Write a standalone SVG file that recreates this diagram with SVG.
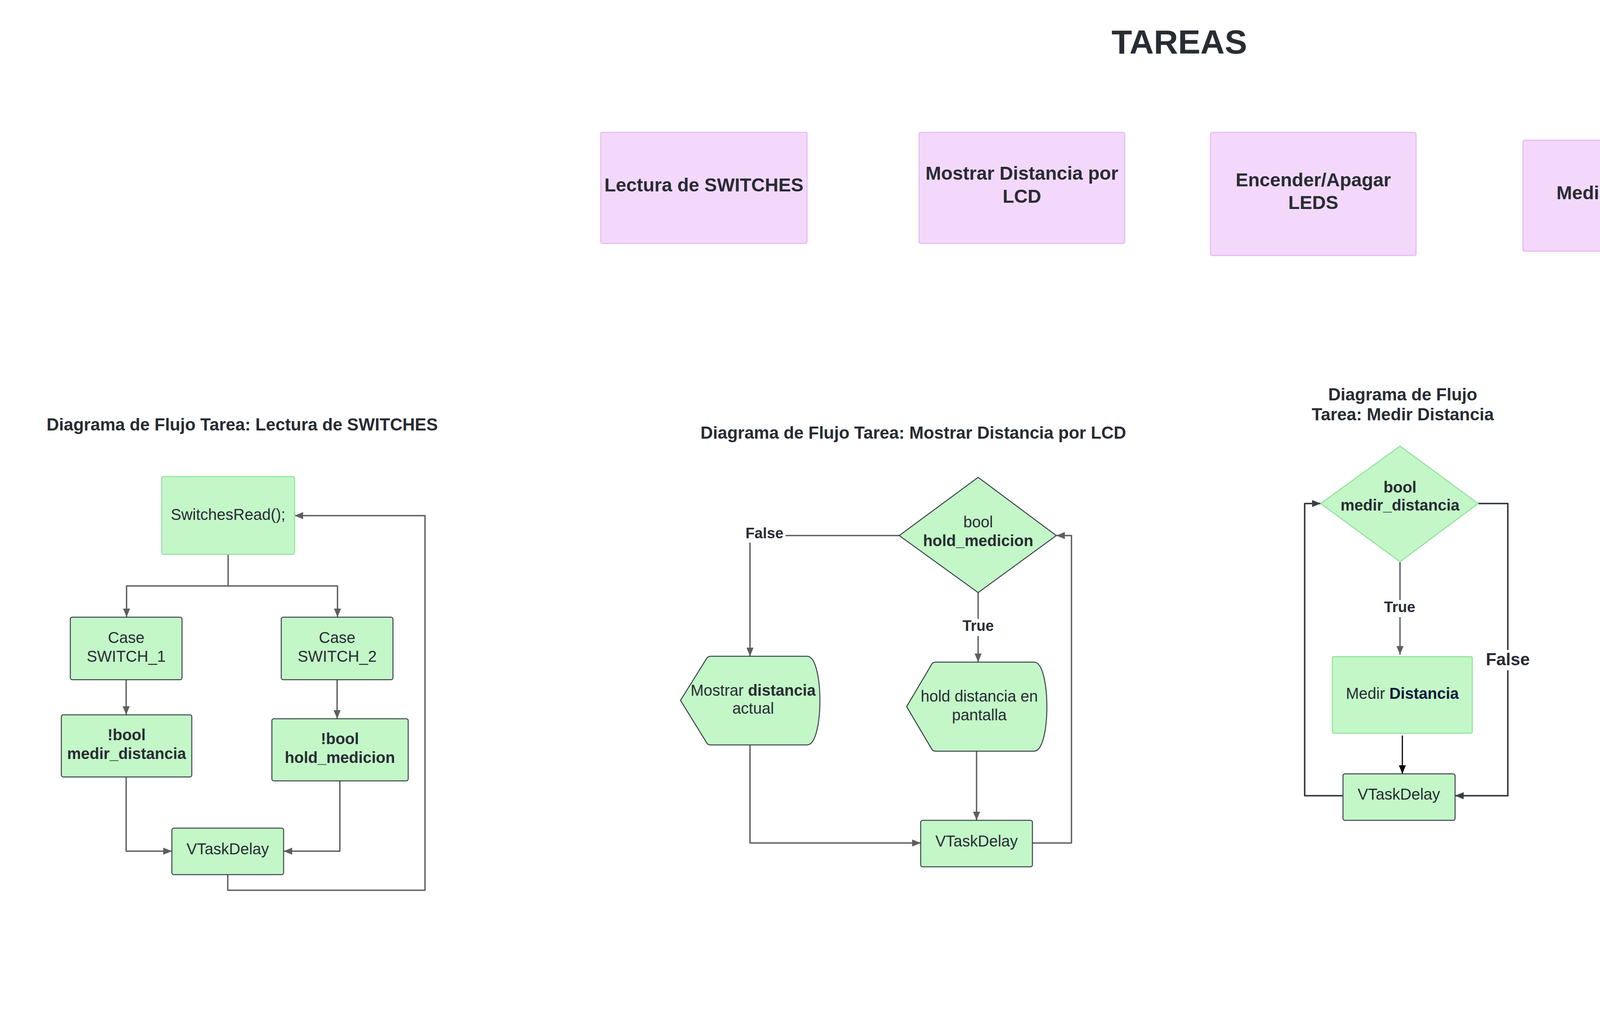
<svg xmlns="http://www.w3.org/2000/svg" width="5987" height="2583" viewBox="0 0 5987 2583">
<style>
text { font-family: "Liberation Sans", Arial, sans-serif; fill: #282c33; text-anchor: middle; }
.b { font-weight: bold; }
.f40 { font-size: 40px; }
.f30 { font-size: 30px; }
.f28 { font-size: 28px; }
.ttl { font-size: 44px; font-weight: bold; }
.task { fill: #f3d8fc; stroke: #e6bdf3; stroke-width: 3; }
.node { fill: #c3f7c8; stroke: #3a414a; stroke-width: 2.5; }
.nodel { fill: #c3f7c8; stroke: #98e4a2; stroke-width: 3; }
.c { fill: none; stroke: #5e5e5e; stroke-width: 3.5; stroke-linejoin: round; }
.cd { fill: none; stroke: #3a3f47; stroke-width: 4; stroke-linejoin: round; }
.ck { fill: none; stroke: #000; stroke-width: 3; }
.bg { fill: #ffffff; }
</style>
<defs>
<marker id="ah" markerUnits="userSpaceOnUse" markerWidth="24" markerHeight="18" refX="22" refY="9" orient="auto"><path d="M0,0 L22,9 L0,18 z" fill="#5e5e5e"/></marker>
<marker id="ahd" markerUnits="userSpaceOnUse" markerWidth="24" markerHeight="18" refX="22" refY="9" orient="auto"><path d="M0,0 L22,9 L0,18 z" fill="#3a3f47"/></marker>
<marker id="ahk" markerUnits="userSpaceOnUse" markerWidth="24" markerHeight="18" refX="22" refY="9" orient="auto"><path d="M0,0 L22,9 L0,18 z" fill="#000"/></marker>
</defs>
<rect width="5987" height="2583" fill="#ffffff"/>

<text x="3019" y="137" class="b" font-size="86">TAREAS</text>

<g id="task-switches"><rect class="task" x="1538" y="339" width="528" height="284" rx="4"/><text x="1802" y="490" class="b" font-size="48">Lectura de SWITCHES</text></g>
<g id="task-lcd"><rect class="task" x="2353" y="339" width="526" height="284" rx="4"/><text x="2616" y="460" class="b" font-size="48">Mostrar Distancia por</text><text x="2616" y="519" class="b" font-size="48">LCD</text></g>
<g id="task-leds"><rect class="task" x="3099" y="339" width="526" height="315" rx="4"/><text x="3362" y="477" class="b" font-size="48">Encender/Apagar</text><text x="3362" y="535" class="b" font-size="48">LEDS</text></g>
<g id="task-medir"><rect class="task" x="3899" y="359" width="526" height="284" rx="4"/><text x="4162" y="510" class="b" font-size="48">Medir Distancia</text></g>

<text x="620" y="1102" class="ttl">Diagrama de Flujo Tarea: Lectura de SWITCHES</text>
<text x="2338" y="1123" class="ttl">Diagrama de Flujo Tarea: Mostrar Distancia por LCD</text>
<text x="3591" y="1025" class="ttl">Diagrama de Flujo</text>
<text x="3591" y="1076" class="ttl">Tarea: Medir Distancia</text>
<text x="5140" y="1020" class="ttl">Diagrama de Flujo Tarea: Encender/Apagar LEDS</text>

<g id="connectors">
<path class="c" d="M584 1419 V1500 H324 V1580" marker-end="url(#ah)"/>
<path class="c" d="M584 1500 H864 V1580" marker-end="url(#ah)"/>
<path class="c" d="M323 1740 V1830" marker-end="url(#ah)"/>
<path class="c" d="M863 1740 V1840" marker-end="url(#ah)"/>
<path class="c" d="M323 1989 V2179 H440" marker-end="url(#ah)"/>
<path class="c" d="M870 1999 V2179 H726" marker-end="url(#ah)"/>
<path class="c" d="M583 2239 V2279 H1088 V1320 H754" marker-end="url(#ah)"/>
<path class="c" d="M2302 1371 H1920 V1680" marker-end="url(#ah)"/>
<path class="c" d="M2504 1517 V1695" marker-end="url(#ah)"/>
<path class="c" d="M1920 1907 V2158 H2357" marker-end="url(#ah)"/>
<path class="c" d="M2500 1923 V2100" marker-end="url(#ah)"/>
<path class="c" d="M2643 2158 H2743 V1371 H2704" marker-end="url(#ah)"/>
<rect class="bg" x="1903" y="1343" width="108" height="46"/>
<text x="1957" y="1378" class="b" font-size="38">False</text>
<rect class="bg" x="2458" y="1584" width="92" height="44"/>
<text x="2504" y="1615" class="b" font-size="38">True</text>
<path class="c" d="M3584 1438 V1676" marker-end="url(#ah)"/>
<path class="ck" d="M3590 1883 V1981" marker-end="url(#ahk)"/>
<path class="cd" d="M3438 2037 H3340 V1289 H3381" marker-end="url(#ahd)"/>
<path class="cd" d="M3784 1289 H3860 V2037 H3725" marker-end="url(#ahd)"/>
<rect class="bg" x="3538" y="1536" width="92" height="44"/>
<text x="3583" y="1567" class="b" font-size="38">True</text>
<rect class="bg" x="3800" y="1664" width="120" height="52"/>
<text x="3860" y="1703" class="b" font-size="44">False</text>
<path class="c" d="M5802 1804 V1143 H4561 V1184" marker-end="url(#ah)"/>
<path class="cd" d="M4715 1288 H5001" marker-end="url(#ahd)"/>
<path class="cd" d="M4777 1697 H4868 V1684 H4981" marker-end="url(#ahd)"/>
<path class="cd" d="M4777 2063 H4981" marker-end="url(#ahd)"/>
<path class="cd" d="M4758 2423 H4981" marker-end="url(#ahd)"/>
<path class="c" d="M4561 1392 V1475 H4570 V1565" marker-end="url(#ah)"/>
<path class="c" d="M4570 1828 V1943" marker-end="url(#ah)"/>
<path class="c" d="M4570 2182 V2245 H4560 V2304" marker-end="url(#ah)"/>
<path class="c" d="M5279 1288 H5470 V1862"/>
<path class="c" d="M5260 1683 C5340 1683 5400 1862 5471 1862"/>
<path class="c" d="M5260 2063 C5340 2063 5400 1862 5471 1862"/>
<path class="c" d="M5260 2424 C5340 2424 5380 1862 5471 1862"/>
<path class="c" d="M5470 1862 H5660" marker-end="url(#ah)"/>
<rect class="bg" x="4840" y="1270" width="34" height="34"/>
<text x="4856" y="1297" class="f28">Sí</text>
<rect class="bg" x="4862" y="1668" width="34" height="34"/>
<text x="4879" y="1695" class="f28">Sí</text>
<rect class="bg" x="4862" y="2044" width="34" height="34"/>
<text x="4879" y="2071" class="f28">Sí</text>
<rect class="bg" x="4851" y="2404" width="34" height="34"/>
<text x="4868" y="2431" class="f28">Sí</text>
<rect class="bg" x="4545" y="1460" width="40" height="32"/>
<text x="4565" y="1484" class="f28">No</text>
<rect class="bg" x="4550" y="1868" width="40" height="32"/>
<text x="4570" y="1892" class="f28">No</text>
<rect class="bg" x="4541" y="2225" width="44" height="32"/>
<text x="4563" y="2249" class="f28 b">No</text>
</g>

<g id="sw-read"><rect class="nodel" x="414" y="1220" width="340" height="199" rx="5"/><text x="584" y="1331" class="f40">SwitchesRead();</text></g>
<g id="sw-case1"><rect class="node" x="180" y="1580" width="286" height="160" rx="5"/><text x="323" y="1646" class="f40">Case</text><text x="323" y="1694" class="f40">SWITCH_1</text></g>
<g id="sw-case2"><rect class="node" x="720" y="1580" width="286" height="160" rx="5"/><text x="863" y="1646" class="f40">Case</text><text x="863" y="1694" class="f40">SWITCH_2</text></g>
<g id="sw-bool1"><rect class="node" x="157" y="1830" width="334" height="159" rx="5"/><text x="324" y="1895" class="f40 b">!bool</text><text x="324" y="1943" class="f40 b">medir_distancia</text></g>
<g id="sw-bool2"><rect class="node" x="696" y="1840" width="349" height="159" rx="5"/><text x="870" y="1905" class="f40 b">!bool</text><text x="870" y="1953" class="f40 b">hold_medicion</text></g>
<g id="sw-delay"><rect class="node" x="440" y="2120" width="286" height="119" rx="5"/><text x="583" y="2187" class="f40">VTaskDelay</text></g>

<g id="lcd-dec"><polygon class="node" points="2504,1222 2704,1371 2504,1517 2302,1371" stroke-linejoin="round"/><text x="2504" y="1350" class="f40">bool</text><text x="2504" y="1398" class="f40 b">hold_medicion</text></g>
<g id="lcd-show"><path class="node" d="M1742 1793 L1810 1684 Q1813 1680 1820 1680 L2066 1680 C2090 1680 2099 1745 2099 1793 C2099 1843 2090 1907 2066 1907 L1820 1907 Q1813 1907 1810 1903 Z"/><text x="1928" y="1781" class="f40">Mostrar <tspan class="b">distancia</tspan></text><text x="1928" y="1827" class="f40">actual</text></g>
<g id="lcd-hold"><path class="node" d="M2321 1809 L2386 1699 Q2389 1695 2396 1695 L2647 1695 C2671 1695 2680 1760 2680 1809 C2680 1860 2671 1923 2647 1923 L2396 1923 Q2389 1923 2386 1919 Z"/><text x="2507" y="1796" class="f40">hold distancia en</text><text x="2507" y="1844" class="f40">pantalla</text></g>
<g id="lcd-delay"><rect class="node" x="2357" y="2100" width="286" height="119" rx="5"/><text x="2500" y="2167" class="f40">VTaskDelay</text></g>

<g id="md-dec"><polygon class="nodel" points="3584,1142 3784,1289 3584,1438 3381,1289" stroke-linejoin="round"/><text x="3584" y="1261" class="f40 b">bool</text><text x="3584" y="1307" class="f40 b">medir_distancia</text></g>
<g id="md-medir"><rect class="nodel" x="3411" y="1681" width="358" height="196" rx="4"/><text x="3590" y="1789" class="f40">Medir <tspan class="b" style="fill:#101a3a">Distancia</tspan></text></g>
<g id="md-delay"><rect class="node" x="3438" y="1981" width="287" height="119" rx="5"/><text x="3581" y="2047" class="f40">VTaskDelay</text></g>

<g id="led-d1"><polygon class="node" points="4561,1184 4715,1288 4561,1392 4405,1288" stroke-linejoin="round"/><text x="4561" y="1297" class="f28"><tspan class="b">Distancia</tspan> &lt;10cm</text></g>
<g id="led-b1"><rect class="node" x="5001" y="1183" width="278" height="210" rx="5"/><text x="5140" y="1255" class="f30">LedOff(LED_1)</text><text x="5140" y="1292" class="f30">LedOff(LED_2)</text><text x="5140" y="1329" class="f30">LedOff(LED_3)</text></g>
<g id="led-d2"><polygon class="node" points="4570,1565 4777,1696 4570,1828 4362,1696" stroke-linejoin="round"/><text x="4570" y="1706" class="f28">10cm&lt;<tspan class="b">Distancia</tspan> &lt;20cm</text></g>
<g id="led-b2"><rect class="node" x="4981" y="1578" width="279" height="210" rx="5"/><text x="5120" y="1651" class="f30">LedOn(LED_1)</text><text x="5120" y="1688" class="f30">LedOff(LED_2)</text><text x="5120" y="1725" class="f30">LedOff(LED_3)</text></g>
<g id="led-d3"><polygon class="node" points="4570,1944 4777,2063 4570,2182 4362,2063" stroke-linejoin="round"/><text x="4570" y="2073" class="f28">20cm&lt;<tspan class="b">Distancia</tspan> &lt;30cm</text></g>
<g id="led-b3"><rect class="node" x="4981" y="1958" width="279" height="210" rx="5"/><text x="5120" y="2030" class="f30">LedOn(LED_1)</text><text x="5120" y="2067" class="f30">LedOn(LED_2)</text><text x="5120" y="2104" class="f30">LedOff(LED_3)</text></g>
<g id="led-d4"><polygon class="node" points="4560,2304 4758,2423 4560,2541 4362,2423" stroke-linejoin="round"/><text x="4560" y="2432" class="f28">30cm&lt;<tspan class="b">Distancia</tspan></text></g>
<g id="led-b4"><rect class="node" x="4981" y="2320" width="279" height="209" rx="5"/><text x="5120" y="2391" class="f30">LedOn(LED_1)</text><text x="5120" y="2428" class="f30">LedOn(LED_2)</text><text x="5120" y="2465" class="f30">LedOn(LED_3)</text></g>
<g id="led-delay"><rect class="node" x="5660" y="1804" width="286" height="118" rx="5"/><text x="5803" y="1876" class="f40">VTaskDelay</text></g>
</svg>
